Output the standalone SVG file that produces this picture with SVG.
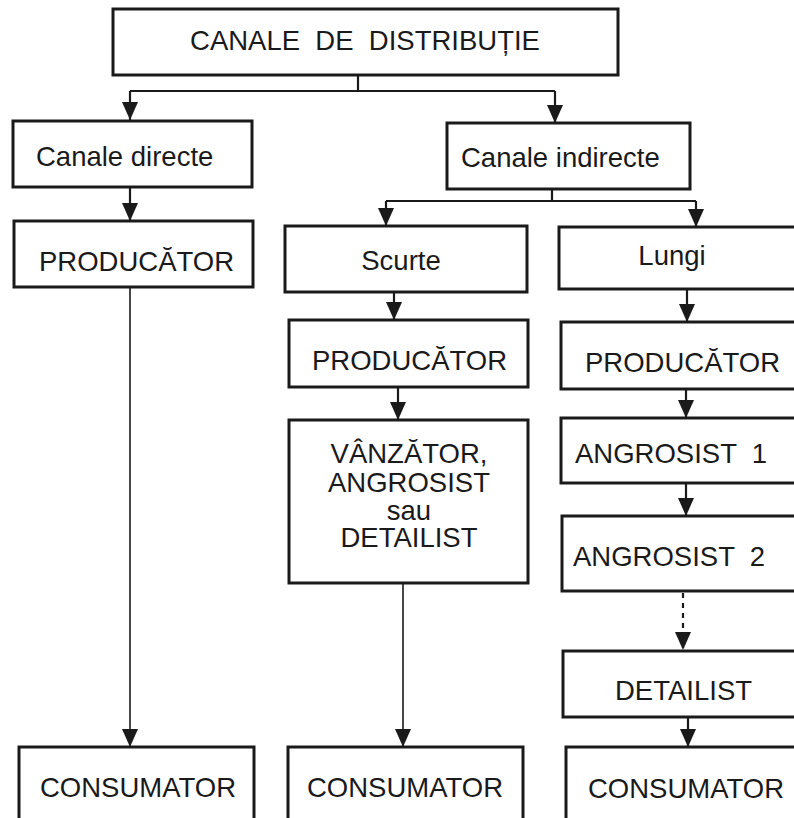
<svg xmlns="http://www.w3.org/2000/svg" width="794" height="818" viewBox="0 0 794 818">
<style>
.box{fill:#fff;stroke:#1a1a1a;stroke-width:3}
.t{font-family:"Liberation Sans",Arial,sans-serif;font-size:27.5px;fill:#1a1a1a}
.c{fill:none;stroke:#1a1a1a;stroke-width:2.2}
.thin{stroke-width:1.6}
.dot{stroke-dasharray:5 5}
</style>
<defs>
<marker id="ah" viewBox="0 0 18 16" refX="18" refY="8" markerWidth="18" markerHeight="16" markerUnits="userSpaceOnUse" orient="auto">
<path d="M0,0 L18,8 L0,16 z" fill="#1a1a1a"/>
</marker>
</defs>
<rect width="794" height="818" fill="#fff"/>
<g id="connectors">
<path class="c" d="M358,75 V91 M130,91 H555"/>
<path class="c" d="M130,91 V120" marker-end="url(#ah)"/>
<path class="c" d="M555,91 V123" marker-end="url(#ah)"/>
<path class="c" d="M130,187 V221" marker-end="url(#ah)"/>
<path class="c thin" d="M130,287 V747" marker-end="url(#ah)"/>
<path class="c" d="M552,189 V201 M386,201 H696"/>
<path class="c" d="M386,201 V226" marker-end="url(#ah)"/>
<path class="c" d="M696,201 V227" marker-end="url(#ah)"/>
<path class="c" d="M394,292 V320" marker-end="url(#ah)"/>
<path class="c" d="M398,387 V420" marker-end="url(#ah)"/>
<path class="c thin" d="M403,583 V747" marker-end="url(#ah)"/>
<path class="c" d="M687,289 V322" marker-end="url(#ah)"/>
<path class="c" d="M686,389 V418" marker-end="url(#ah)"/>
<path class="c" d="M686,483 V516" marker-end="url(#ah)"/>
<path class="c dot" d="M683,593 V650" marker-end="url(#ah)"/>
<path class="c" d="M688,717 V747" marker-end="url(#ah)"/>
</g>
<g id="root"><rect class="box" x="113" y="9" width="505" height="66"/><text class="t" x="365" y="50" text-anchor="middle" xml:space="preserve">CANALE  DE  DISTRIBUȚIE</text></g>
<g id="directe"><rect class="box" x="13" y="121" width="239" height="66"/><text class="t" x="36" y="166">Canale directe</text></g>
<g id="indirecte"><rect class="box" x="447" y="123" width="243" height="66"/><text class="t" x="461" y="167">Canale indirecte</text></g>
<g id="prod-direct"><rect class="box" x="14" y="221" width="239" height="66"/><text class="t" x="39" y="271">PRODUCĂTOR</text></g>
<g id="scurte"><rect class="box" x="285" y="226" width="242" height="66"/><text class="t" x="401" y="270" text-anchor="middle">Scurte</text></g>
<g id="lungi"><rect class="box" x="559" y="227" width="245" height="62"/><text class="t" x="672" y="265" text-anchor="middle">Lungi</text></g>
<g id="prod-scurte"><rect class="box" x="289" y="320" width="239" height="67"/><text class="t" x="312" y="370">PRODUCĂTOR</text></g>
<g id="prod-lungi"><rect class="box" x="561" y="322" width="243" height="67"/><text class="t" x="585" y="372">PRODUCĂTOR</text></g>
<g id="vanzator"><rect class="box" x="289" y="420" width="239" height="163"/>
<text class="t" text-anchor="middle"><tspan x="409" y="463">VÂNZĂTOR,</tspan><tspan x="409" y="492">ANGROSIST</tspan><tspan x="409" y="520">sau</tspan><tspan x="409" y="547">DETAILIST</tspan></text></g>
<g id="angrosist1"><rect class="box" x="561" y="418" width="243" height="65"/><text class="t" x="575" y="463" xml:space="preserve">ANGROSIST  1</text></g>
<g id="angrosist2"><rect class="box" x="562" y="516" width="242" height="75"/><text class="t" x="573" y="566" xml:space="preserve">ANGROSIST  2</text></g>
<g id="detailist"><rect class="box" x="563" y="651" width="241" height="66"/><text class="t" x="615" y="700">DETAILIST</text></g>
<g id="cons-direct"><rect class="box" x="19" y="747" width="235" height="80"/><text class="t" x="40" y="797">CONSUMATOR</text></g>
<g id="cons-scurte"><rect class="box" x="288" y="747" width="235" height="80"/><text class="t" x="307" y="797">CONSUMATOR</text></g>
<g id="cons-lungi"><rect class="box" x="566" y="747" width="238" height="80"/><text class="t" x="588" y="798">CONSUMATOR</text></g>
</svg>
